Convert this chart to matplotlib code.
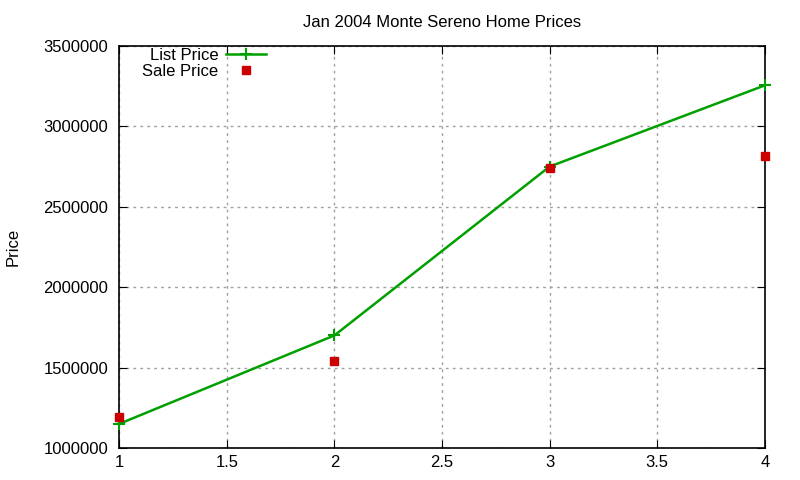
import matplotlib
matplotlib.use('Agg')
from matplotlib import pyplot as plt

plt.rcParams['font.family'] = ['Liberation Sans', 'DejaVu Sans']

# data
houses = [1, 2, 3, 4]
list_price = [1150000, 1700000, 2750000, 3255000]
sale_price = [1195000, 1540000, 2740000, 2815000]
xticks = [1, 1.5, 2, 2.5, 3, 3.5, 4]
yticks = [1000000, 1500000, 2000000, 2500000, 3000000, 3500000]

fig = plt.figure(figsize=(8, 4.8), dpi=100)
ax = fig.add_axes([0.149, 0.0667, 0.807, 0.8375])

ax.plot(houses, list_price, color='#00a000', lw=1.8, marker='+', ms=8, mew=1.5,
        label='List Price', clip_on=False, zorder=3)
ax.plot(houses, sale_price, ls='none', marker='s', ms=6, color='#cc0000',
        label='Sale Price', clip_on=False, zorder=4)

ax.set_xlim(1, 4)
ax.set_ylim(1000000, 3500000)
ax.set_xticks(xticks)
ax.set_xticklabels(['1', '1.5', '2', '2.5', '3', '3.5', '4'])
ax.set_yticks(yticks)
ax.set_yticklabels([str(v) for v in yticks])
ax.tick_params(direction='in', top=True, right=True, length=6, labelsize=12)
ax.tick_params(axis='y', pad=8)
ax.tick_params(axis='x', pad=5)
ax.grid(True, color='#a0a0a0', ls=(0, (2, 3)), lw=1)
for s in ax.spines.values():
    s.set_linewidth(1.2)

ax.set_title('Jan 2004 Monte Sereno Home Prices', fontsize=12, pad=14)
ax.set_ylabel('Price', fontsize=12)
ax.yaxis.set_label_coords(-0.153, 0.5)

ax.legend(loc='upper left', frameon=False, markerfirst=False, fontsize=12,
          handlelength=2.4, handletextpad=0.5, borderaxespad=0.0,
          labelspacing=0.05, bbox_to_anchor=(0.025, 1.012))

plt.savefig('out.png')
